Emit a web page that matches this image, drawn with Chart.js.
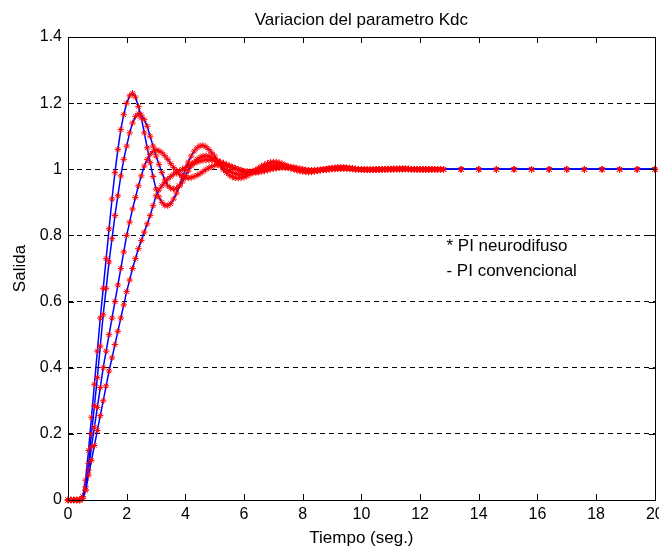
<!DOCTYPE html>
<html>
<head>
<meta charset="utf-8">
<script src="https://cdn.jsdelivr.net/npm/chart.js@4/dist/chart.umd.min.js"></script>
<style>
  html, body { margin: 0; padding: 0; background: #fff; }
  #grafico { display: block; }
</style>
</head>
<body>
<canvas id="grafico" width="659" height="551"></canvas>
<script>
// Respuesta al escalon para varios valores de Kdc

const tiempo = [0,0.1,0.2,0.3,0.4,0.5,0.6,0.7,0.8,0.9,
  1,1.1,1.2,1.3,1.4,1.5,1.6,1.7,1.8,1.9,
  2,2.1,2.2,2.3,2.4,2.5,2.6,2.7,2.8,2.9,
  3,3.1,3.2,3.3,3.4,3.5,3.6,3.7,3.8,3.9,
  4,4.1,4.2,4.3,4.4,4.5,4.6,4.7,4.8,4.9,
  5,5.1,5.2,5.3,5.4,5.5,5.6,5.7,5.8,5.9,
  6,6.1,6.2,6.3,6.4,6.5,6.6,6.7,6.8,6.9,
  7,7.1,7.2,7.3,7.4,7.5,7.6,7.7,7.8,7.9,
  8,8.1,8.2,8.3,8.4,8.5,8.6,8.7,8.8,8.9,
  9,9.1,9.2,9.3,9.4,9.5,9.6,9.7,9.8,9.9,
  10,10.1,10.2,10.3,10.4,10.5,10.6,10.7,10.8,10.9,
  11,11.1,11.2,11.3,11.4,11.5,11.6,11.7,11.8,11.9,
  12,12.1,12.2,12.3,12.4,12.5,12.6,12.7,12.8,
  13.4,14,14.6,15.2,15.8,16.4,17,17.6,18.2,18.8,19.4,20];

const salida1 = [0,0,0,0,0,0.01,0.06,0.15,0.25,0.35,
  0.45,0.55,0.64,0.73,0.82,0.91,0.99,1.06,1.12,1.165,
  1.20,1.222,1.23,1.218,1.19,1.155,1.11,1.065,1.02,0.978,
  0.94,0.916,0.90,0.891,0.89,0.896,0.91,0.928,0.95,0.975,
  1.0,1.022,1.04,1.055,1.065,1.071,1.072,1.068,1.06,1.05,
  1.04,1.025,1.01,0.998,0.99,0.982,0.977,0.974,0.973,0.974,
  0.976,0.98,0.985,0.991,0.998,1.004,1.01,1.014,1.018,1.021,
  1.022,1.022,1.02,1.017,1.013,1.008,1.004,1.0,0.997,0.995,
  0.993,0.992,0.991,0.992,0.993,0.995,0.997,0.999,1.001,1.003,
  1.004,1.005,1.006,1.006,1.006,1.005,1.004,1.003,1.001,1.0,
  0.999,0.998,0.998,0.998,0.998,0.999,0.999,1.0,1.0,1.001,
  1.001,1.002,1.002,1.002,1.002,1.001,1.001,1.0,1.0,1.0,
  1.0,0.999,0.999,0.999,1.0,1.0,1.0,1.0,1.0,
  1,1,1,1,1,1,1,1,1,1,1,1];

const salida2 = [0,0,0,0,0,0.01,0.04,0.11,0.20,0.285,
  0.37,0.465,0.56,0.64,0.72,0.79,0.86,0.92,0.98,1.03,
  1.07,1.11,1.14,1.16,1.168,1.164,1.15,1.13,1.10,1.07,
  1.04,1.015,0.99,0.968,0.95,0.943,0.94,0.942,0.95,0.962,
  0.98,0.995,1.01,1.021,1.03,1.036,1.04,1.041,1.04,1.036,
  1.03,1.023,1.015,1.007,1.0,0.995,0.99,0.987,0.985,0.984,
  0.985,0.987,0.99,0.993,0.997,1.0,1.004,1.007,1.009,1.011,
  1.012,1.012,1.012,1.011,1.009,1.007,1.004,1.002,1.0,0.998,
  0.997,0.996,0.995,0.995,0.996,0.997,0.998,0.999,1.0,1.001,
  1.002,1.003,1.004,1.004,1.004,1.004,1.003,1.002,1.001,1.0,
  1.0,0.999,0.999,0.999,0.999,0.999,0.999,1.0,1.0,1.0,
  1.0,1.001,1.001,1.001,1.001,1.001,1.001,1.0,1.0,1.0,
  1,1,1,1,1,1,1,1,1,
  1,1,1,1,1,1,1,1,1,1,1,1];

const salida3 = [0,0,0,0,0,0.005,0.03,0.09,0.16,0.22,
  0.28,0.34,0.40,0.45,0.50,0.55,0.60,0.65,0.70,0.75,
  0.80,0.84,0.88,0.915,0.95,0.98,1.01,1.03,1.045,1.054,
  1.058,1.056,1.05,1.041,1.03,1.017,1.005,0.994,0.985,0.979,
  0.975,0.974,0.975,0.978,0.982,0.987,0.993,0.999,1.004,1.008,
  1.012,1.014,1.015,1.014,1.012,1.009,1.006,1.003,1.0,0.997,
  0.995,0.994,0.993,0.993,0.994,0.995,0.997,0.998,1.0,1.002,
  1.003,1.004,1.005,1.005,1.005,1.004,1.003,1.002,1.0,0.999,
  0.998,0.998,0.997,0.997,0.998,0.998,0.999,0.999,1.0,1.0,
  1.001,1.001,1.002,1.002,1.002,1.002,1.001,1.001,1.0,1.0,
  1,1,1,0.999,0.999,0.999,0.999,1,1,1,
  1,1,1,1,1,1.001,1.001,1,1,1,
  1,1,1,1,1,1,1,1,1,
  1,1,1,1,1,1,1,1,1,1,1,1];

const salida4 = [0,0,0,0,0,0.005,0.03,0.075,0.12,0.165,
  0.21,0.255,0.30,0.345,0.39,0.43,0.47,0.51,0.55,0.59,
  0.63,0.665,0.70,0.73,0.76,0.785,0.81,0.835,0.86,0.89,
  0.92,0.937,0.95,0.96,0.97,0.978,0.985,0.99,0.995,1.0,
  1.005,1.01,1.015,1.019,1.022,1.025,1.027,1.028,1.028,1.028,
  1.027,1.025,1.022,1.019,1.015,1.011,1.007,1.003,1.0,0.997,
  0.994,0.992,0.99,0.99,0.99,0.991,0.993,0.995,0.997,1.0,
  1.002,1.004,1.006,1.007,1.008,1.008,1.007,1.006,1.004,1.002,
  1.0,0.998,0.997,0.996,0.996,0.996,0.997,0.998,0.999,1.0,
  1.001,1.002,1.002,1.003,1.003,1.003,1.002,1.001,1.0,1.0,
  0.999,0.999,0.999,0.999,0.999,1,1,1,1,1,
  1,1,1,1,1.001,1.001,1.001,1,1,1,
  1,1,1,1,1,1,1,1,1,
  1,1,1,1,1,1,1,1,1,1,1,1];

const xTicks = [0,2,4,6,8,10,12,14,16,18,20];
const xTickLabels = ['0','2','4','6','8','10','12','14','16','18','20'];
const yTicks = [0,0.2,0.4,0.6,0.8,1,1.2,1.4];
const yTickLabels = ['0','0.2','0.4','0.6','0.8','1','1.2','1.4'];

const notaTextos = ['* PI neurodifuso', '- PI convencional'];
const notaX = 12.9;
const notaY = [0.752, 0.677];

const fuente = "'Liberation Sans', Arial, sans-serif";

function serie(valores) {
  return {
    data: valores.map((v, i) => ({ x: tiempo[i], y: v })),
    borderColor: '#0000ff',
    borderWidth: 1.5,
    pointStyle: 'star',
    pointRadius: 3.2,
    pointBorderColor: '#ff0000',
    pointBackgroundColor: '#ff0000',
    pointBorderWidth: 1,
    pointHoverRadius: 3.2,
    tension: 0,
    clip: false
  };
}

// caja tipo matlab con marcas hacia dentro y el texto de la leyenda
const cajaEjes = {
  id: 'cajaEjes',
  afterDatasetsDraw(chart) {
    const ctx = chart.ctx;
    const a = chart.chartArea;
    const sx = chart.scales.x;
    const sy = chart.scales.y;
    ctx.save();
    ctx.strokeStyle = '#000';
    ctx.lineWidth = 1;
    ctx.setLineDash([]);
    ctx.strokeRect(Math.round(a.left) + 0.5, Math.round(a.top) + 0.5,
      Math.round(a.right - a.left), Math.round(a.bottom - a.top));
    ctx.beginPath();
    xTicks.forEach((t) => {
      const px = Math.round(sx.getPixelForValue(t)) + 0.5;
      ctx.moveTo(px, a.bottom); ctx.lineTo(px, a.bottom - 6);
      ctx.moveTo(px, a.top); ctx.lineTo(px, a.top + 6);
    });
    yTicks.forEach((v) => {
      const py = Math.round(sy.getPixelForValue(v)) + 0.5;
      ctx.moveTo(a.left, py); ctx.lineTo(a.left + 6, py);
      ctx.moveTo(a.right, py); ctx.lineTo(a.right - 6, py);
    });
    ctx.stroke();

    ctx.fillStyle = '#000';
    ctx.font = "17px 'Liberation Sans', Arial, sans-serif";
    ctx.textAlign = 'left';
    ctx.textBaseline = 'alphabetic';
    notaTextos.forEach((txt, i) => {
      ctx.fillText(txt, sx.getPixelForValue(notaX), sy.getPixelForValue(notaY[i]));
    });
    ctx.restore();
  }
};

new Chart(document.getElementById('grafico'), {
  type: 'line',
  data: {
    datasets: [serie(salida4), serie(salida3), serie(salida2), serie(salida1)]
  },
  options: {
    responsive: false,
    animation: false,
    devicePixelRatio: 1,
    events: [],
    layout: { padding: { top: 0, right: 4, bottom: 0, left: 0 } },
    plugins: {
      legend: { display: false },
      tooltip: { enabled: false },
      title: {
        display: true,
        fullSize: false,
        text: 'Variacion del parametro Kdc',
        color: '#000',
        font: { family: fuente, size: 17, weight: 'normal', lineHeight: 1.2 },
        padding: { top: 10.5, bottom: 6.1 }
      }
    },
    scales: {
      x: {
        type: 'linear',
        min: 0,
        max: 20,
        afterBuildTicks: (s) => { s.ticks = xTicks.map((v) => ({ value: v })); },
        afterFit: (s) => { s.height = 51; s.paddingLeft = 0; s.paddingRight = 0; },
        ticks: {
          color: '#000',
          padding: 5,
          maxRotation: 0,
          autoSkip: false,
          font: { family: fuente, size: 16 },
          callback: (v, i) => xTickLabels[i]
        },
        grid: { display: false, drawTicks: false },
        border: { display: false },
        title: {
          display: true,
          text: 'Tiempo (seg.)',
          color: '#000',
          font: { family: fuente, size: 17, lineHeight: 1.2 },
          padding: { top: 0, bottom: 2.8 }
        }
      },
      y: {
        type: 'linear',
        min: 0,
        max: 1.4,
        afterBuildTicks: (s) => { s.ticks = yTicks.map((v) => ({ value: v })); },
        afterFit: (s) => { s.width = 68; s.paddingTop = 0; s.paddingBottom = 0; },
        ticks: {
          color: '#000',
          padding: 6,
          autoSkip: false,
          font: { family: fuente, size: 16 },
          callback: (v, i) => yTickLabels[i]
        },
        grid: {
          drawTicks: false,
          color: (c) => (c.tick && (c.tick.value === 0 || c.tick.value === 1.4)) ? 'rgba(0,0,0,0)' : '#000',
          lineWidth: 1
        },
        border: { display: false, dash: [5, 4] },
        title: {
          display: true,
          text: 'Salida',
          color: '#000',
          font: { family: fuente, size: 17, lineHeight: 1.2 },
          padding: { top: 9.8, bottom: 0 }
        }
      }
    }
  },
  plugins: [cajaEjes]
});
</script>
</body>
</html>
